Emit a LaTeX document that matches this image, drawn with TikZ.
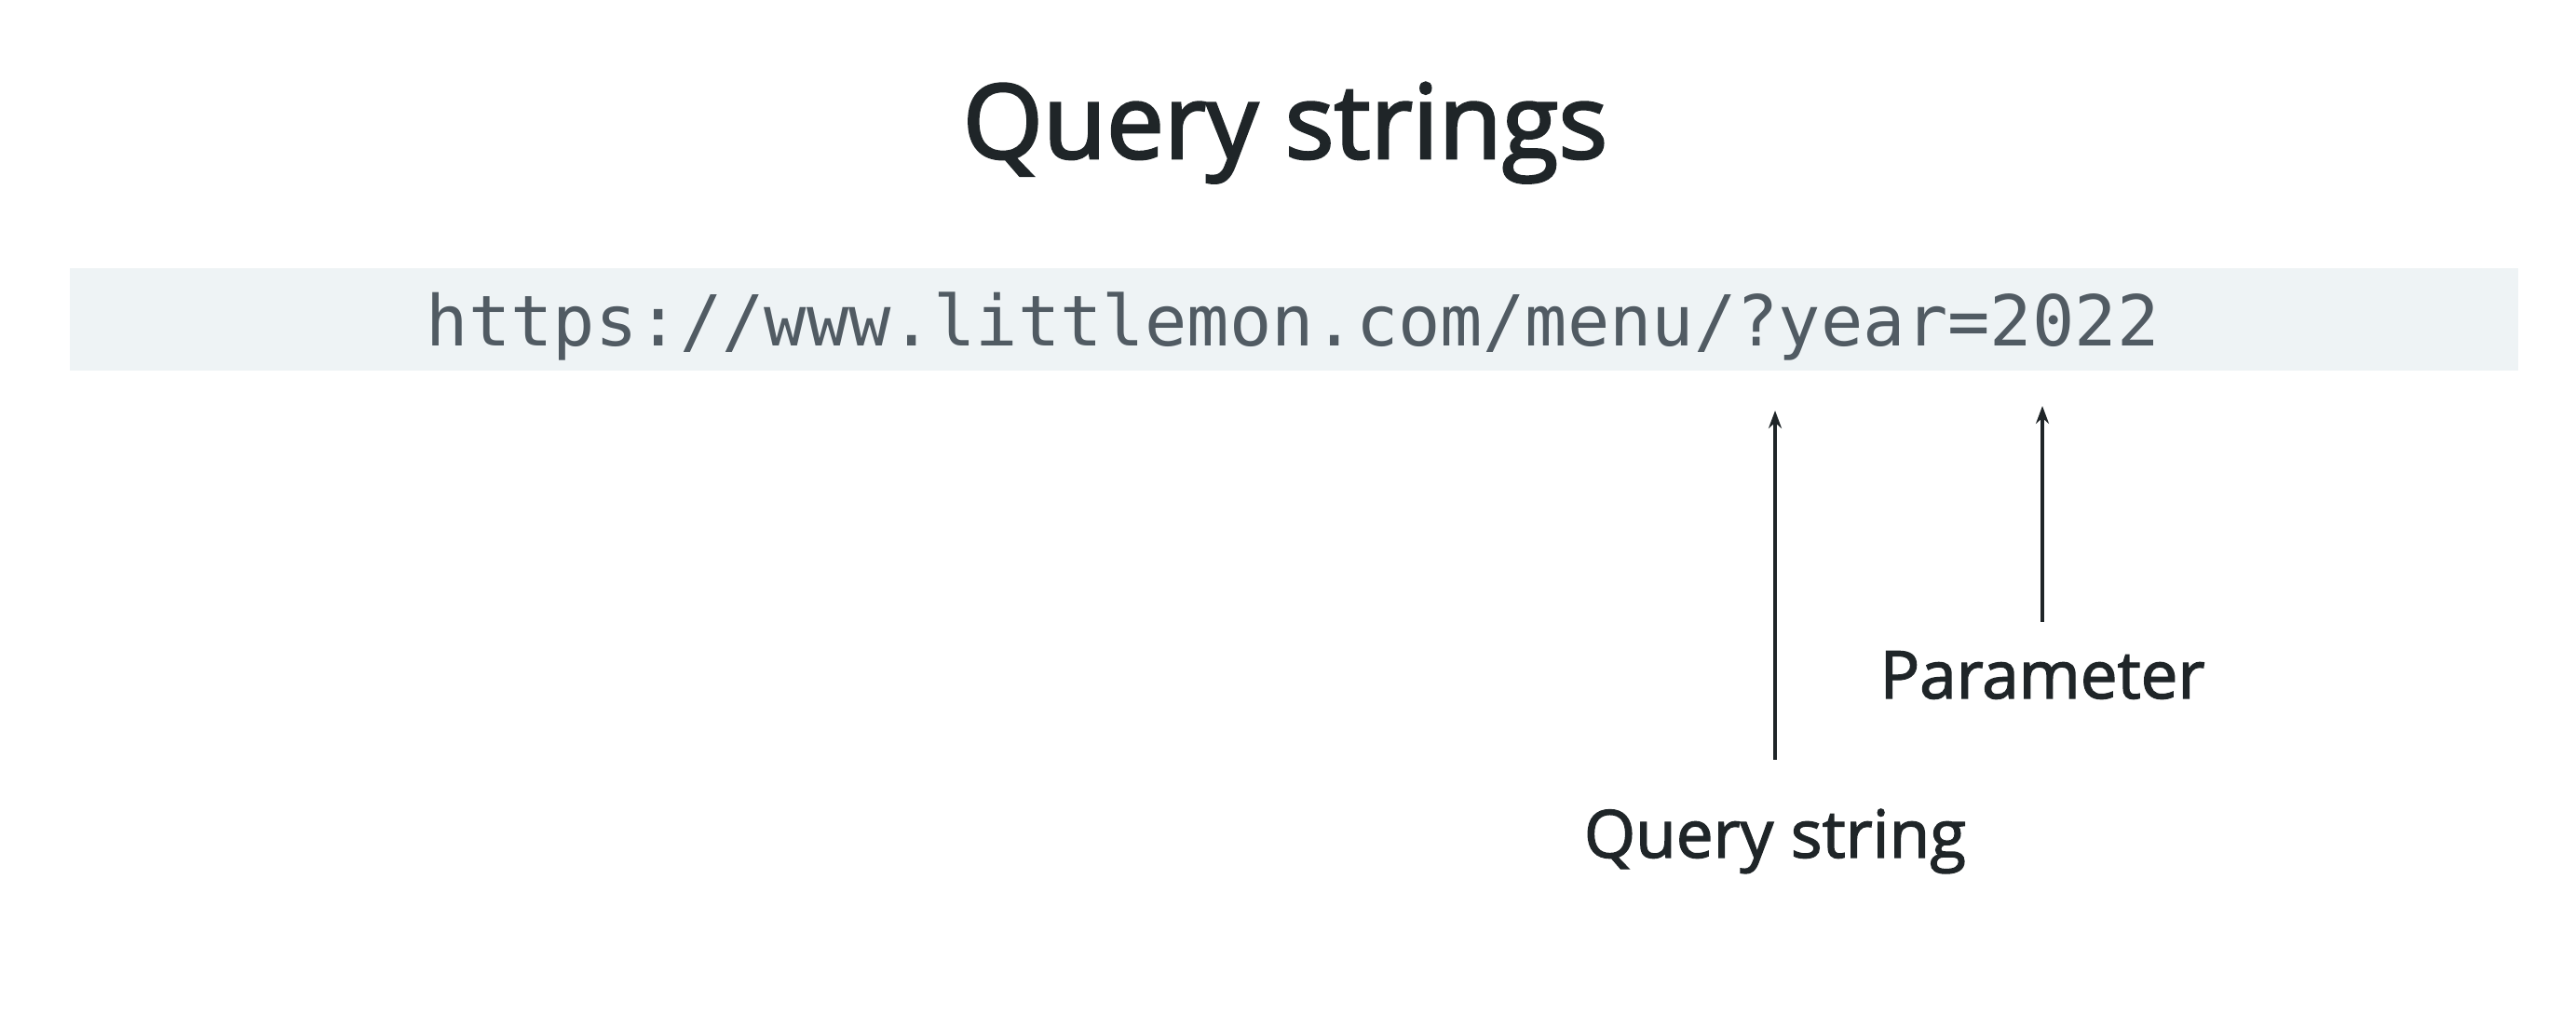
\documentclass[tikz,border=0pt]{standalone}
\usepackage{fontspec}
\setmainfont{Open Sans}
\newfontfamily\headfont{Open Sans}[FakeBold=2.5]
\newfontfamily\labfont{Open Sans}[FakeBold=1.9]
\newfontfamily\urlfont{DejaVu Sans Mono}
\usetikzlibrary{arrows.meta}
\definecolor{bandcol}{HTML}{EEF3F5}
\definecolor{urlcol}{HTML}{515B63}
\definecolor{inkcol}{HTML}{1F2528}
\tikzset{
  titletext/.style={inner sep=0pt, anchor=base, text=inkcol, font=\headfont\fontsize{31.5}{36}\selectfont},
  labeltext/.style={inner sep=0pt, anchor=base, text=inkcol, font=\labfont\fontsize{20.2}{24}\selectfont},
  urltext/.style={inner sep=0pt, anchor=base west, text=urlcol, font=\urlfont\fontsize{21.45}{24}\selectfont},
  pointer/.style={draw=inkcol, line width=1.25pt, -{Stealth[length=0.19cm, width=0.14cm]}}
}
\begin{document}
\begin{tikzpicture}
\useasboundingbox (0,0) rectangle (27.66,-11.04);
\fill[white] (0,0) rectangle (27.66,-11.04);
\node[titletext] (title) at (13.80,-1.70) {Query strings};
\fill[bandcol] (0.75,-2.88) rectangle (27.04,-3.98);
\node[urltext] (url) at (4.57,-3.72) {https://www.littlemon.com/menu/?year=2022};
\node[labeltext] (qs) at (19.06,-9.21) {Query string};
\node[labeltext] (par) at (21.93,-7.50) {Parameter};
\coordinate (qtail) at (19.06,-8.16);
\coordinate (qtip) at (19.06,-4.41);
\coordinate (ptail) at (21.93,-6.68);
\coordinate (ptip) at (21.93,-4.36);
\draw[pointer] (qtail) -- (qtip);
\draw[pointer] (ptail) -- (ptip);
\end{tikzpicture}
\end{document}
